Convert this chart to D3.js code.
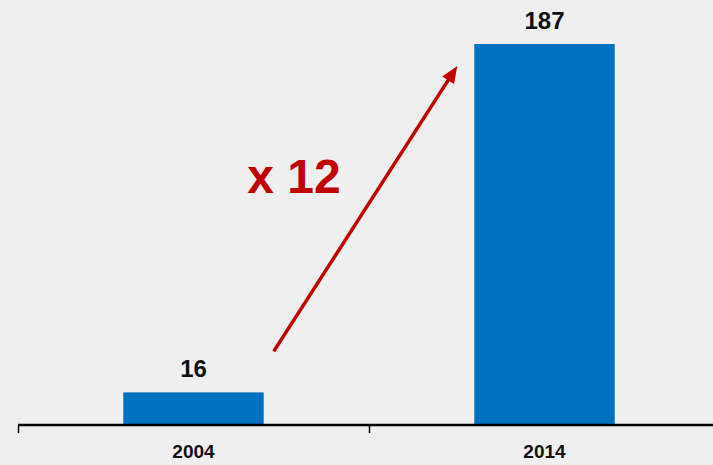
<!DOCTYPE html>
<html><head><meta charset="utf-8">
<script src="https://cdn.jsdelivr.net/npm/d3@7"></script>
<style>html,body{margin:0;padding:0;background:#efefef;}svg{display:block;}</style>
</head><body>
<svg id="chart" width="713" height="465"></svg>
<script>
const years = ["2004", "2014"];
const values = [16, 187];
const multiplierLabel = "x 12";

const W = 713, H = 465;
const svg = d3.select("#chart");
svg.append("rect").attr("width", W).attr("height", H).attr("fill", "#efefef");

const baseY = 425;
const x = d3.scaleBand().domain(years).range([18, 720]).padding(0);
const y = d3.scaleLinear().domain([0, 187]).range([baseY, 44]);
const bw = x.bandwidth() * 0.4;
const barX = d => x(d) + (x.bandwidth() - bw) / 2;
const font = "'Liberation Sans', Arial, sans-serif";

// bars
svg.selectAll("rect.bar").data(years).join("rect")
  .attr("class", "bar")
  .attr("x", barX)
  .attr("width", bw)
  .attr("y", (d, i) => y(values[i]))
  .attr("height", (d, i) => baseY - y(values[i]))
  .attr("fill", "#0070c0");

// value labels
svg.selectAll("text.val").data(years).join("text")
  .attr("class", "val")
  .attr("x", d => x(d) + x.bandwidth() / 2)
  .attr("y", (d, i) => y(values[i]) - 15)
  .attr("text-anchor", "middle")
  .attr("font-family", font).attr("font-weight", "bold").attr("font-size", 24)
  .attr("fill", "#111")
  .text((d, i) => values[i]);

// axis
const axisG = svg.append("g").attr("transform", `translate(0,${baseY})`);
axisG.append("line").attr("x1", 18).attr("x2", W).attr("y1", 0).attr("y2", 0)
  .attr("stroke", "#000").attr("stroke-width", 2.5);
axisG.selectAll("line.tick").data(years).join("line")
  .attr("class", "tick")
  .attr("x1", d => x(d) + 0.5).attr("x2", d => x(d) + 0.5)
  .attr("y1", 0).attr("y2", 8)
  .attr("stroke", "#000").attr("stroke-width", 1.5);
axisG.selectAll("text").data(years).join("text")
  .attr("x", d => x(d) + x.bandwidth() / 2)
  .attr("y", 33)
  .attr("text-anchor", "middle")
  .attr("font-family", font).attr("font-weight", "bold").attr("font-size", 19)
  .attr("fill", "#111")
  .text(d => d);

// arrow annotation
const x0 = barX(years[0]) + bw + 10;
const y0 = y(values[0]) - 41;
const x1 = barX(years[1]) - 17;
const y1 = y(values[1]) + 22;
const ang = Math.atan2(y1 - y0, x1 - x0);
const headLen = 17, headW = 7;
const lx = x1 - Math.cos(ang) * (headLen - 2), ly = y1 - Math.sin(ang) * (headLen - 2);
svg.append("line").attr("x1", x0).attr("y1", y0).attr("x2", lx).attr("y2", ly)
  .attr("stroke", "#c00000").attr("stroke-width", 3.5);
const bx = x1 - Math.cos(ang) * headLen, by = y1 - Math.sin(ang) * headLen;
const px = -Math.sin(ang) * headW, py = Math.cos(ang) * headW;
svg.append("path")
  .attr("d", `M${x1},${y1}L${bx + px},${by + py}L${bx - px},${by - py}Z`)
  .attr("fill", "#c00000");

svg.append("text")
  .attr("x", 294).attr("y", 193)
  .attr("text-anchor", "middle")
  .attr("font-family", font).attr("font-weight", "bold").attr("font-size", 48)
  .attr("fill", "#c00000")
  .text(multiplierLabel);
</script>
</body></html>
